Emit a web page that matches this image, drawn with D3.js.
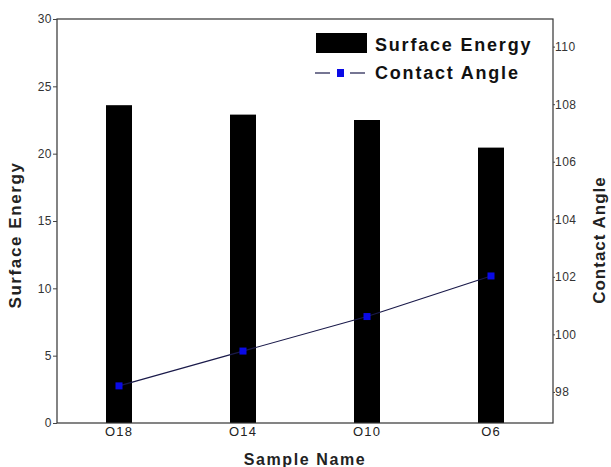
<!DOCTYPE html>
<html><head><meta charset="utf-8">
<script src="https://cdn.jsdelivr.net/npm/d3@7"></script>
<style>body{margin:0;background:#fff}svg{display:block;font-family:Arial,"Liberation Sans",sans-serif}</style>
</head><body>
<script>
const categories = ["O18","O14","O10","O6"];
const surfaceEnergy = [23.6, 22.9, 22.5, 20.45];
const contactAngle = [98.21, 99.42, 100.62, 102.03];
const leftTicks = [0,5,10,15,20,25,30];
const rightTicks = [98,100,102,104,106,108,110];

const W=611,H=467;
const m={l:57,t:19,r:553,b:423};
const svg=d3.select("body").append("svg").attr("width",W).attr("height",H);

const x=d3.scaleBand().domain(categories).range([m.l,m.r]).paddingInner(0).paddingOuter(0);
const yL=d3.scaleLinear().domain([0,30]).range([m.b,m.t]);
const yR=d3.scaleLinear().domain([96.92,110.96]).range([m.b,m.t]);
const bw=26;

// bars
svg.selectAll("rect.bar").data(categories).join("rect").attr("class","bar")
  .attr("x",d=>x(d)+x.bandwidth()/2-bw/2).attr("width",bw)
  .attr("y",(d,i)=>yL(surfaceEnergy[i])).attr("height",(d,i)=>m.b-yL(surfaceEnergy[i]))
  .attr("fill","#000");

// line
const line=d3.line().x((d,i)=>x(categories[i])+x.bandwidth()/2).y(d=>yR(d));
svg.append("path").datum(contactAngle).attr("d",line).attr("fill","none").attr("stroke","#1a1a4a").attr("stroke-width",1.2);
svg.selectAll("rect.pt").data(contactAngle).join("rect").attr("class","pt")
  .attr("x",(d,i)=>x(categories[i])+x.bandwidth()/2-3.5).attr("y",d=>yR(d)-3.5)
  .attr("width",7).attr("height",7).attr("fill","#0a0ae6");

// frame
svg.append("rect").attr("x",m.l).attr("y",m.t).attr("width",m.r-m.l).attr("height",m.b-m.t)
  .attr("fill","none").attr("stroke","#333").attr("stroke-width",1.2);

// axes
const gL=svg.append("g").attr("transform",`translate(${m.l},0)`)
  .call(d3.axisLeft(yL).tickValues(leftTicks).tickSize(4).tickPadding(1));
const gR=svg.append("g").attr("transform",`translate(${m.r},0)`)
  .call(d3.axisRight(yR).tickValues(rightTicks).tickSize(2).tickPadding(0));
const gB=svg.append("g").attr("transform",`translate(0,${m.b})`)
  .call(d3.axisBottom(x).tickSize(0).tickPadding(4));
[gL,gR,gB].forEach(g=>{
  g.select(".domain").remove();
  g.selectAll("line").attr("stroke","#444");
  g.selectAll("text").attr("font-family","Arial, Liberation Sans, sans-serif").attr("fill","#333").attr("font-size",12).attr("letter-spacing",0.5);
});
gB.selectAll("text").attr("font-size",13).attr("letter-spacing",1.2).attr("fill","#222");

// titles
svg.append("text").attr("transform","translate(21,235) rotate(-90)").attr("text-anchor","middle")
  .attr("font-weight","bold").attr("font-size",17).attr("letter-spacing",1.6).attr("fill","#222").text("Surface Energy");
svg.append("text").attr("transform","translate(605,240) rotate(-90)").attr("text-anchor","middle")
  .attr("font-weight","bold").attr("font-size",17).attr("letter-spacing",1).attr("fill","#222").text("Contact Angle");
svg.append("text").attr("x",305).attr("y",465).attr("text-anchor","middle")
  .attr("font-weight","bold").attr("font-size",16).attr("letter-spacing",1.6).attr("fill","#222").text("Sample Name");

// legend
const lg=svg.append("g");
lg.append("rect").attr("x",316).attr("y",33).attr("width",51).attr("height",20).attr("fill","#000");
lg.append("text").attr("x",375).attr("y",51).attr("font-weight","bold").attr("font-size",18).attr("letter-spacing",1.8).attr("fill","#111").text("Surface Energy");
lg.append("line").attr("x1",315).attr("x2",330).attr("y1",73).attr("y2",73).attr("stroke","#1a1a4a").attr("stroke-width",1.2);
lg.append("line").attr("x1",350).attr("x2",365).attr("y1",73).attr("y2",73).attr("stroke","#1a1a4a").attr("stroke-width",1.2);
lg.append("rect").attr("x",337).attr("y",69).attr("width",7).attr("height",8).attr("fill","#0a0ae6");
lg.append("text").attr("x",375).attr("y",79).attr("font-weight","bold").attr("font-size",18).attr("letter-spacing",1.8).attr("fill","#111").text("Contact Angle");
</script>
</body></html>
